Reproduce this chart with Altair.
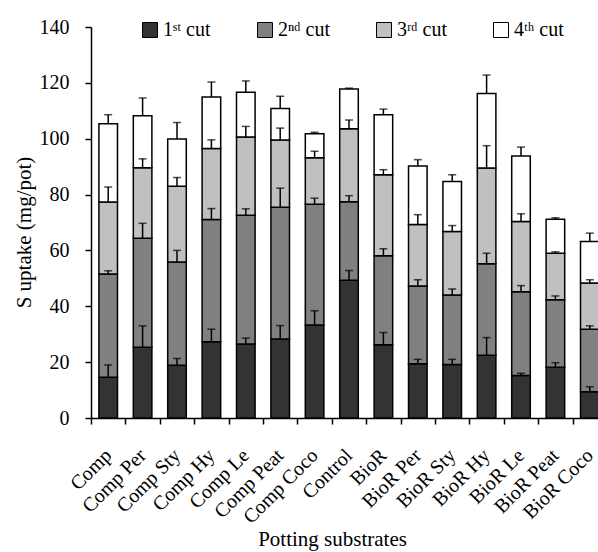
import altair as alt
import pandas as pd

categories = ["Comp", "Comp Per", "Comp Sty", "Comp Hy", "Comp Le", "Comp Peat", "Comp Coco",
              "Control", "BioR", "BioR Per", "BioR Sty", "BioR Hy", "BioR Le", "BioR Peat", "BioR Coco"]

cut_names = ["1ˢᵗ cut", "2ⁿᵈ cut", "3ʳᵈ cut", "4ᵗʰ cut"]
cut_colors = ["#333333", "#808080", "#c0c0c0", "#ffffff"]

cut1 = [14.6, 25.3, 18.9, 27.3, 26.5, 28.3, 33.3, 49.3, 26.2, 19.4, 19.2, 22.5, 15.2, 18.2, 9.4]
cut2 = [37.0, 39.1, 37.0, 43.8, 46.1, 47.2, 43.2, 28.1, 31.9, 27.9, 24.8, 32.7, 30.0, 24.1, 22.4]
cut3 = [25.7, 25.2, 27.1, 25.4, 28.0, 24.0, 16.7, 26.2, 29.0, 22.0, 22.8, 34.3, 25.2, 16.7, 16.5]
cut4 = [28.1, 18.6, 16.9, 18.4, 16.0, 11.3, 8.6, 14.2, 21.5, 20.9, 17.9, 26.7, 23.4, 12.2, 14.9]

sd1 = [4.4, 7.7, 2.4, 4.5, 2.1, 4.8, 5.1, 3.5, 4.4, 1.6, 1.8, 6.3, 0.8, 1.6, 1.8]
sd2 = [1.1, 5.3, 4.1, 3.9, 2.3, 6.8, 2.2, 2.2, 2.5, 2.2, 2.2, 3.8, 2.2, 1.4, 1.2]
sd3 = [5.4, 3.2, 3.1, 3.1, 3.8, 4.3, 2.3, 3.1, 1.8, 3.5, 2.1, 8.0, 2.7, 0.5, 1.2]
sd4 = [3.2, 6.4, 5.9, 5.4, 4.1, 4.4, 0.5, 0.3, 2.0, 2.3, 2.4, 6.6, 3.2, 0.5, 3.0]

y_ticks = [0, 20, 40, 60, 80, 100, 120, 140]

rows = []
for i, cat in enumerate(categories):
    base = 0.0
    for k, (vals, sds) in enumerate(zip([cut1, cut2, cut3, cut4], [sd1, sd2, sd3, sd4])):
        top = base + vals[i]
        rows.append({"substrate": cat, "cut": cut_names[k], "order": k,
                     "y0": base, "y1": top, "err": top + sds[i]})
        base = top
df = pd.DataFrame(rows)

FONT = "Liberation Serif"

xenc = alt.X("substrate:N", sort=categories,
             scale=alt.Scale(range=[0, 516], paddingInner=0.46, paddingOuter=0.23),
             axis=alt.Axis(title="Potting substrates", labelAngle=-45, labelAlign="right",
                           labelBaseline="middle", labelFontSize=20, labelPadding=28,
                           labelFont=FONT, titleFont=FONT,
                           tickOffset=-17.2, labelOffset=17, tickSize=6, tickColor="black",
                           tickWidth=1.5, domainColor="black", domainWidth=1.5,
                           titleFontSize=21, titleFontWeight="normal", titleX=241, titleY=127,
                           titleAlign="center", titleBaseline="alphabetic",
                           labelColor="black", titleColor="black"))

yscale = alt.Scale(domain=[0, 140], nice=False)

bars = alt.Chart(df).mark_bar(stroke="black", strokeWidth=1.5).encode(
    x=xenc,
    y=alt.Y("y0:Q", scale=yscale,
            axis=alt.Axis(title="S uptake (mg/pot)", values=y_ticks, grid=False,
                          labelFont=FONT, titleFont=FONT,
                          labelFontSize=20, labelPadding=16, tickSize=6, tickColor="black",
                          tickWidth=1.5, domainColor="black", domainWidth=1.5,
                          titleFontSize=21, titleFontWeight="normal", titleX=-67, titleY=205,
                          titleAlign="center", titleBaseline="middle",
                          labelColor="black", titleColor="black")),
    y2="y1:Q",
    fill=alt.Fill("cut:N", sort=cut_names,
                  scale=alt.Scale(domain=cut_names, range=cut_colors),
                  legend=alt.Legend(title=None, orient="none", legendX=49, legendY=-7,
                                    direction="horizontal", symbolType="square",
                                    symbolSize=225, symbolStrokeColor="black",
                                    symbolStrokeWidth=1, labelFontSize=20, labelOffset=3,
                                    labelFont=FONT,
                                    columnPadding=44, padding=0, labelColor="black")),
    order=alt.Order("order:Q"),
)

err_rule = alt.Chart(df).mark_rule(color="black", strokeWidth=1.5).encode(
    x=alt.X("substrate:N", sort=categories),
    y=alt.Y("y1:Q", scale=yscale),
    y2="err:Q",
)

err_cap = alt.Chart(df).mark_tick(color="black", thickness=1.5, size=8).encode(
    x=alt.X("substrate:N", sort=categories),
    y=alt.Y("err:Q", scale=yscale),
)

chart = alt.layer(bars, err_rule, err_cap).properties(
    width=507, height=391,
    autosize=alt.AutoSizeParams(type="none"),
    padding={"left": 91, "top": 27, "right": 0, "bottom": 134},
).configure(font=FONT).configure_view(stroke=None).configure_axis(labelFont=FONT, titleFont=FONT)

chart.save("out.html", embed_options={"renderer": "svg", "actions": False})
